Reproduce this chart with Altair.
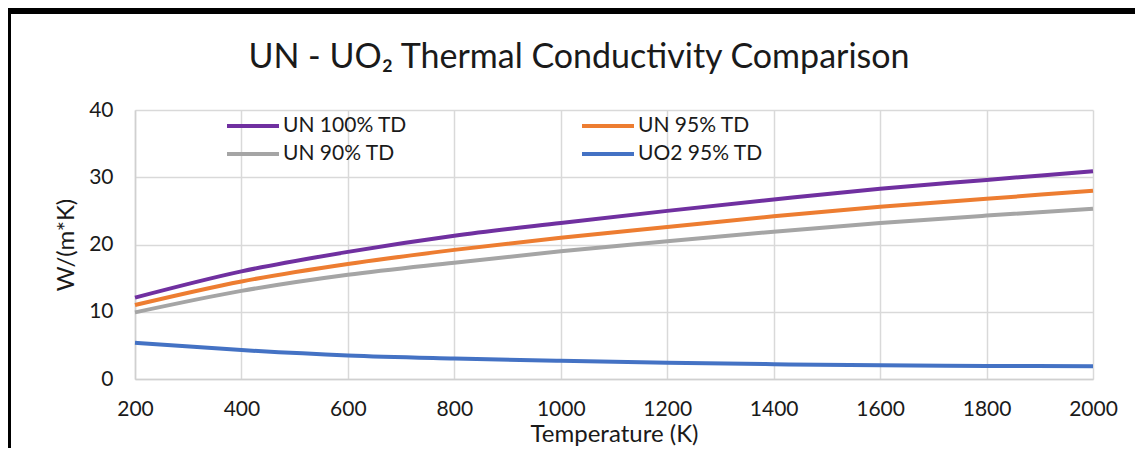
import altair as alt
import pandas as pd

temps = [200, 400, 600, 800, 1000, 1200, 1400, 1600, 1800, 2000]
un100 = [12.1, 16.0, 18.9, 21.3, 23.2, 25.0, 26.7, 28.3, 29.6, 30.9]
un95 = [11.0, 14.5, 17.1, 19.2, 21.0, 22.6, 24.2, 25.6, 26.8, 28.0]
un90 = [9.9, 13.1, 15.5, 17.3, 19.0, 20.5, 21.9, 23.2, 24.3, 25.3]
uo2 = [5.4, 4.3, 3.5, 3.05, 2.7, 2.42, 2.2, 2.04, 1.95, 1.9]

series_names = ["UN 100% TD", "UN 95% TD", "UN 90% TD", "UO2 95% TD"]
series_values = [un100, un95, un90, uo2]
series_colors = ["#7030a0", "#ed7d31", "#a5a5a5", "#4472c4"]

rows = []
for name, vals in zip(series_names, series_values):
    for t, v in zip(temps, vals):
        rows.append({"T": t, "k": v, "series": name})
df = pd.DataFrame(rows)

FONT = "Lato"
W, H = 958, 269

lines = alt.Chart(df).mark_line(strokeWidth=4, interpolate="monotone").encode(
    x=alt.X("T:Q", scale=alt.Scale(domain=[200, 2000], nice=False, zero=False),
            axis=alt.Axis(values=temps, title="Temperature (K)", grid=True, format="d",
                          labelFlush=False, ticks=False, tickSize=0,
                          labelPadding=19, titlePadding=3)),
    y=alt.Y("k:Q", scale=alt.Scale(domain=[0, 40], nice=False),
            axis=alt.Axis(values=[0, 10, 20, 30, 40], title="W/(m*K)", grid=True,
                          ticks=False, tickSize=0, labelPadding=22, titlePadding=10)),
    color=alt.Color("series:N", sort=series_names,
                    scale=alt.Scale(domain=series_names, range=series_colors),
                    legend=alt.Legend(title=None, orient="none", legendX=89, legendY=4,
                                      direction="horizontal",
                                      columns=2, symbolType="M-0.9,0H4.3", symbolStrokeWidth=4,
                                      symbolSize=400, labelFontSize=21, labelFont=FONT,
                                      labelColor="#1a1a1a", columnPadding=167,
                                      rowPadding=6, labelOffset=35, labelLimit=300)),
    order=alt.Order("T:Q"),
)

border = alt.Chart(pd.DataFrame({"a": [0]})).mark_rect(
    filled=False, stroke="black", strokeWidth=6, fill=None
).encode(
    x=alt.value(-127), x2=alt.value(1030), y=alt.value(-99), y2=alt.value(360)
)

chart = alt.layer(lines, border).properties(
    width=W, height=H,
    title=alt.TitleParams("UN - UO\u2082 Thermal Conductivity Comparison", font=FONT,
                          fontSize=34, fontWeight="normal", color="#1a1a1a",
                          anchor="middle", frame="group", dx=-35, offset=0, dy=67),
    padding={"left": 127, "top": 102, "right": 42, "bottom": 69},
    autosize=alt.AutoSizeParams(type="none"),
).configure_axis(
    labelFont=FONT, titleFont=FONT, labelFontSize=21, titleFontSize=24,
    titleFontWeight="normal", labelColor="#1a1a1a", titleColor="#1a1a1a",
    gridColor="#d9d9d9", gridWidth=1.5, domainColor="#d0d0d0", domainWidth=1.5,
).configure_view(stroke=None)

chart.save("out.html", embed_options={"renderer": "svg", "actions": False})
